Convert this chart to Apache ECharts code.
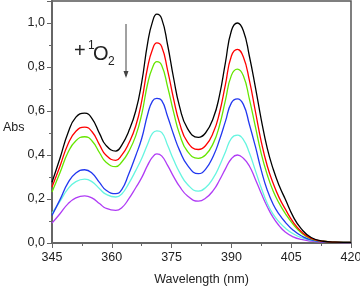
<!DOCTYPE html>
<html>
<head>
<meta charset="utf-8">
<script src="https://cdn.jsdelivr.net/npm/echarts@6/dist/echarts.min.js"></script>
<style>
html,body{margin:0;padding:0;background:#fff;}
#chart{width:360px;height:286px;}
</style>
</head>
<body>
<div id="chart"></div>
<script>
const wavelengths = [345, 347, 349, 351, 353.2, 355, 357, 358.5, 361, 362.5, 364.2, 366, 367.5, 369, 370.2, 371.3, 372.5, 374, 375.5, 377, 379, 381.7, 383.5, 385.5, 387, 388.5, 390, 391.5, 393, 394.5, 396, 397.5, 399, 400.5, 402, 403.5, 405.5, 407.5, 410, 413, 416, 420];

const absBlack  = [0.276, 0.385, 0.50, 0.572, 0.59, 0.567, 0.495, 0.445, 0.418, 0.445, 0.506, 0.60, 0.73, 0.91, 1.005, 1.04, 1.02, 0.90, 0.75, 0.62, 0.52, 0.48, 0.50, 0.57, 0.67, 0.82, 0.965, 1.00, 0.965, 0.85, 0.71, 0.56, 0.43, 0.335, 0.26, 0.20, 0.12, 0.065, 0.025, 0.008, 0.004, 0.003];
const absRed    = [0.255, 0.349, 0.449, 0.508, 0.527, 0.507, 0.444, 0.400, 0.376, 0.399, 0.451, 0.532, 0.645, 0.80, 0.88, 0.91, 0.893, 0.785, 0.655, 0.545, 0.459, 0.425, 0.442, 0.504, 0.591, 0.72, 0.85, 0.88, 0.845, 0.74, 0.60, 0.46, 0.35, 0.27, 0.205, 0.155, 0.095, 0.052, 0.021, 0.008, 0.004, 0.003];
const absGreen  = [0.232, 0.319, 0.411, 0.465, 0.483, 0.465, 0.408, 0.368, 0.347, 0.368, 0.414, 0.487, 0.585, 0.725, 0.797, 0.824, 0.808, 0.71, 0.595, 0.495, 0.416, 0.385, 0.40, 0.455, 0.533, 0.648, 0.762, 0.79, 0.76, 0.655, 0.53, 0.405, 0.31, 0.235, 0.18, 0.135, 0.085, 0.047, 0.019, 0.008, 0.004, 0.003];
const absBlue   = [0.125, 0.197, 0.273, 0.318, 0.333, 0.318, 0.273, 0.241, 0.224, 0.243, 0.311, 0.397, 0.475, 0.585, 0.645, 0.657, 0.648, 0.575, 0.493, 0.421, 0.353, 0.315, 0.335, 0.397, 0.468, 0.553, 0.637, 0.655, 0.63, 0.54, 0.44, 0.33, 0.24, 0.175, 0.13, 0.095, 0.058, 0.033, 0.014, 0.006, 0.004, 0.003];
const absCyan   = [0.135, 0.189, 0.246, 0.279, 0.29, 0.279, 0.245, 0.222, 0.209, 0.223, 0.269, 0.329, 0.384, 0.45, 0.498, 0.51, 0.503, 0.444, 0.378, 0.321, 0.266, 0.236, 0.251, 0.297, 0.350, 0.414, 0.476, 0.49, 0.47, 0.41, 0.33, 0.25, 0.18, 0.13, 0.095, 0.068, 0.042, 0.025, 0.012, 0.007, 0.005, 0.003];
const absPurple = [0.09, 0.133, 0.178, 0.205, 0.214, 0.205, 0.178, 0.158, 0.148, 0.160, 0.199, 0.251, 0.297, 0.354, 0.390, 0.405, 0.396, 0.353, 0.302, 0.257, 0.214, 0.19, 0.203, 0.24, 0.285, 0.337, 0.383, 0.40, 0.385, 0.35, 0.29, 0.225, 0.165, 0.115, 0.078, 0.05, 0.028, 0.016, 0.009, 0.005, 0.003, 0.002];

const seriesNames = ['0', '1', '2', '3', '4', '5'];
const seriesValues = [absBlack, absRed, absGreen, absBlue, absCyan, absPurple];
const seriesColors = ['#000000', '#ff0000', '#66e600', '#2238f0', '#66f5e0', '#b03cf5'];

const xMin = 345, xMax = 420, xStep = 15;
const yMin = 0, yMax = 1.1, yStep = 0.2;

const FONT = '"Liberation Sans", Arial, sans-serif';
const axisColor = '#666';

const chart = echarts.init(document.getElementById('chart'), null, {renderer: 'canvas'});

const series = seriesValues.map((vals, k) => ({
  name: seriesNames[k],
  type: 'line',
  data: wavelengths.map((w, i) => [w, vals[i]]),
  smooth: 0.5,
  showSymbol: false,
  lineStyle: {color: seriesColors[k], width: 1.3},
  itemStyle: {color: seriesColors[k]},
  z: 10 - k,
  animation: false
}));

chart.setOption({
  animation: false,
  grid: {left: 52, right: 9, top: 1, bottom: 43, containLabel: false, outerBoundsMode: 'none',
    show: true, borderColor: '#555', borderWidth: 1.5, backgroundColor: 'transparent'},
  xAxis: [{
    type: 'value', min: xMin, max: xMax, interval: xStep,
    axisLine: {show: true, onZero: false, lineStyle: {color: axisColor, width: 2}},
    axisTick: {show: true, inside: false, length: 5, lineStyle: {color: axisColor, width: 1}},
    minorTick: {show: true, splitNumber: 2, length: 3, lineStyle: {color: axisColor, width: 1}},
    splitLine: {show: false},
    axisLabel: {color: '#222', fontFamily: FONT, fontSize: 12.5, margin: 8},
    name: 'Wavelength (nm)', nameLocation: 'middle', nameGap: 30,
    nameTextStyle: {color: '#222', fontFamily: FONT, fontSize: 12.5}
  }],
  yAxis: [{
    type: 'value', min: yMin, max: yMax, interval: yStep,
    axisLine: {show: true, onZero: false, lineStyle: {color: axisColor, width: 2}},
    axisTick: {show: true, inside: false, length: 5, lineStyle: {color: axisColor, width: 1}},
    splitLine: {show: false},
    axisLabel: {color: '#222', fontFamily: FONT, fontSize: 12.5, margin: 7,
      formatter: v => (v > 1.05 ? '' : v.toFixed(1).replace('.', ','))}
  }, {
    type: 'value', min: yMin, max: yMax, interval: 0.1, position: 'left',
    axisLine: {show: false},
    axisTick: {show: true, inside: false, length: 3, lineStyle: {color: axisColor, width: 1}},
    axisLabel: {show: false},
    splitLine: {show: false}
  }],
  series: series,
  graphic: [
    {type: 'text', left: 3, top: 121, style: {text: 'Abs', font: '12.5px ' + FONT, fill: '#222'}},
    {type: 'text', left: 74, top: 41, style: {text: '+', font: '20px ' + FONT, fill: '#222'}},
    {type: 'text', left: 88, top: 40, style: {text: '1', font: '12px ' + FONT, fill: '#222'}},
    {type: 'text', left: 93, top: 44, style: {text: 'O', font: '20px ' + FONT, fill: '#222'}},
    {type: 'text', left: 108, top: 56, style: {text: '2', font: '12px ' + FONT, fill: '#222'}},
    {type: 'line', shape: {x1: 126, y1: 24, x2: 126, y2: 76}, style: {stroke: '#444', lineWidth: 1}},
    {type: 'polygon', shape: {points: [[123.5, 71], [128.5, 71], [126, 78]]}, style: {fill: '#444'}}
  ]
});
</script>
</body>
</html>
